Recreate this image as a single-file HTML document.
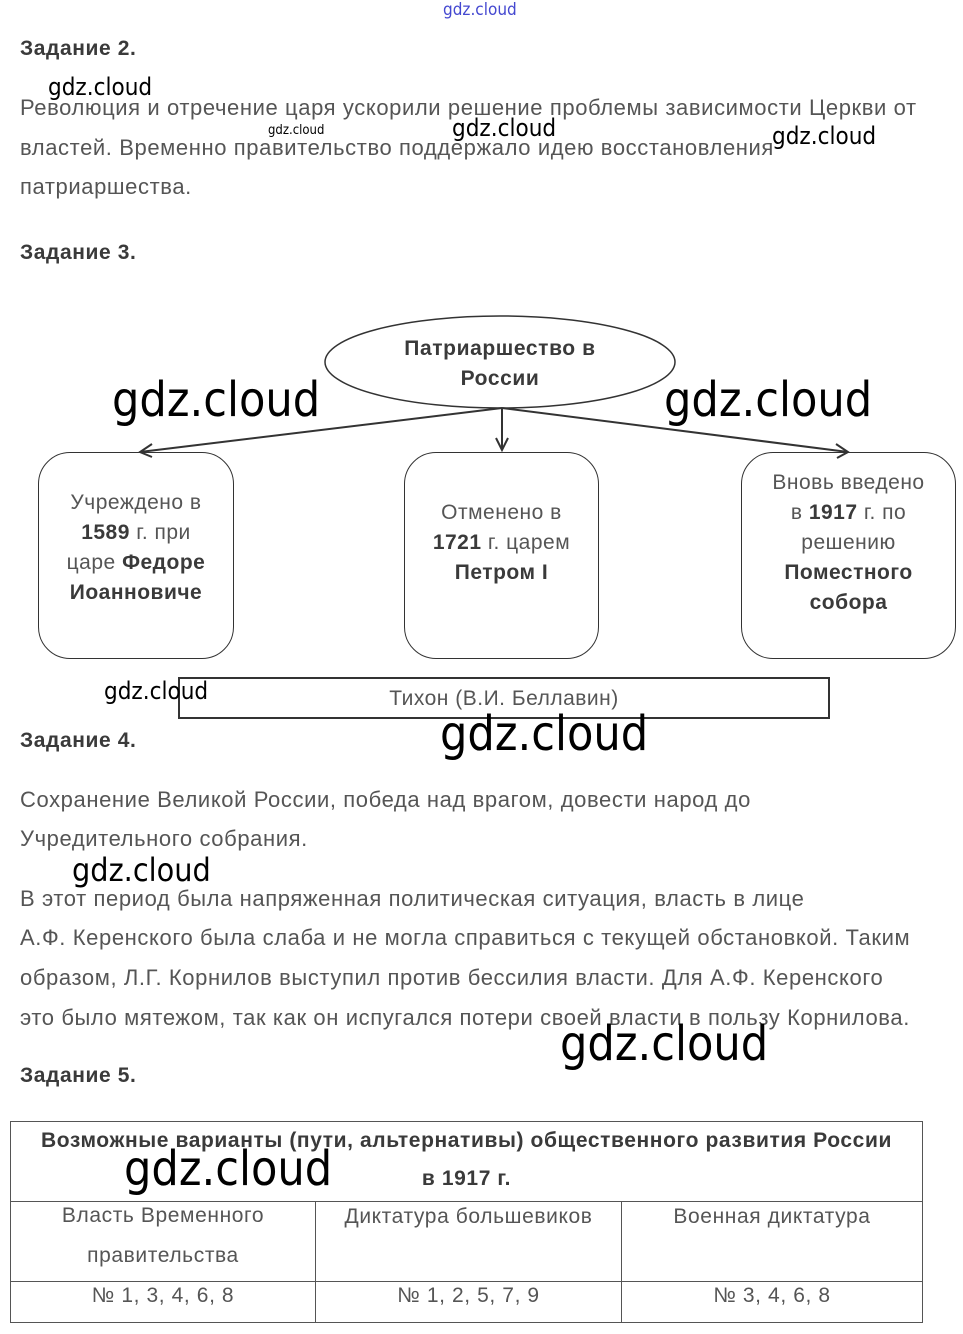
<!DOCTYPE html>
<html><head><meta charset="utf-8"><style>
body{margin:0;width:963px;height:1334px;background:#fff;position:relative;overflow:hidden;font-family:"Liberation Sans",sans-serif;}
.t{position:absolute;white-space:nowrap;color:#555;font-size:22px;line-height:22px;letter-spacing:0.6px;}
.h{position:absolute;white-space:nowrap;color:#3a3a3a;font-size:21px;font-weight:bold;line-height:22px;letter-spacing:0.6px;}
.w{position:absolute;white-space:nowrap;color:#000;font-family:"DejaVu Sans Condensed","Liberation Sans Narrow","Liberation Sans",sans-serif;line-height:1;letter-spacing:0;}
.box{position:absolute;border:1.5px solid #333;border-radius:32px;box-sizing:border-box;display:flex;align-items:center;justify-content:center;text-align:center;color:#555;font-size:21px;line-height:30px;letter-spacing:0.5px;}
b{color:#3a3a3a}
table{position:absolute;left:10px;top:1121px;width:913px;border-collapse:collapse;color:#555;font-size:21px;letter-spacing:0.6px;}
td{border:1px solid #555;text-align:center;vertical-align:top;padding:0;}
</style></head><body>
<div class="w" style="left:443px;top:2px;font-size:17px;color:#4448d0">gdz.cloud</div>
<div class="h" style="left:20px;top:38px">Задание 2.</div>
<div class="w" style="left:48px;top:75px;font-size:24px">gdz.cloud</div>
<div class="t" style="left:20px;top:97px">Революция и отречение царя ускорили решение проблемы зависимости Церкви от</div>
<div class="w" style="left:268px;top:124px;font-size:13px">gdz.cloud</div>
<div class="w" style="left:452px;top:116px;font-size:24px">gdz.cloud</div>
<div class="t" style="left:20px;top:137px">властей. Временно правительство поддержало идею восстановления</div>
<div class="w" style="left:772px;top:124px;font-size:24px">gdz.cloud</div>
<div class="t" style="left:20px;top:176px">патриаршества.</div>
<div class="h" style="left:20px;top:242px">Задание 3.</div>

<svg style="position:absolute;left:0;top:0" width="963" height="740">
<ellipse cx="500" cy="362" rx="175" ry="46" fill="#fff" stroke="#333" stroke-width="1.5"/>
<g stroke="#333" stroke-width="2" fill="none">
<line x1="502" y1="408" x2="140" y2="452"/>
<line x1="502" y1="408" x2="502" y2="450"/>
<line x1="502" y1="408" x2="848" y2="452"/>
<polyline points="152,444 140,452 152,457"/>
<polyline points="496,438 502,450 508,438"/>
<polyline points="836,444 848,452 837,458"/>
</g>
</svg>
<div class="h" style="left:325px;top:334px;width:350px;text-align:center;line-height:30px">Патриаршество в<br>России</div>
<div class="box" style="left:38px;top:452px;width:196px;height:207px"><div style="margin-top:-16px">Учреждено в<br><b>1589</b> г. при<br>царе <b>Федоре<br>Иоанновиче</b></div></div>
<div class="box" style="left:404px;top:452px;width:195px;height:207px"><div style="margin-top:-26px">Отменено в<br><b>1721</b> г. царем<br><b>Петром I</b></div></div>
<div class="box" style="left:741px;top:452px;width:215px;height:207px"><div style="margin-top:-26px">Вновь введено<br>в <b>1917</b> г. по<br>решению<br><b>Поместного<br>собора</b></div></div>
<div style="position:absolute;left:178px;top:677px;width:652px;height:42px;border:2px solid #333;box-sizing:border-box;text-align:center;color:#555;font-size:21px;letter-spacing:0.5px;line-height:40px">Тихон (В.И. Беллавин)</div>
<div class="w" style="left:112px;top:376px;font-size:48px">gdz.cloud</div>
<div class="w" style="left:664px;top:376px;font-size:48px">gdz.cloud</div>
<div class="w" style="left:104px;top:679px;font-size:24px">gdz.cloud</div>

<div class="h" style="left:20px;top:730px">Задание 4.</div>
<div class="w" style="left:440px;top:710px;font-size:48px">gdz.cloud</div>
<div class="t" style="left:20px;top:789px">Сохранение Великой России, победа над врагом, довести народ до</div>
<div class="t" style="left:20px;top:828px">Учредительного собрания.</div>
<div class="w" style="left:72px;top:854px;font-size:32px">gdz.cloud</div>
<div class="t" style="left:20px;top:888px">В этот период была напряженная политическая ситуация, власть в лице</div>
<div class="t" style="left:20px;top:927px">А.Ф. Керенского была слаба и не могла справиться с текущей обстановкой. Таким</div>
<div class="t" style="left:20px;top:967px">образом, Л.Г. Корнилов выступил против бессилия власти. Для А.Ф. Керенского</div>
<div class="t" style="left:20px;top:1007px">это было мятежом, так как он испугался потери своей власти в пользу Корнилова.</div>
<div class="w" style="left:560px;top:1020px;font-size:48px">gdz.cloud</div>
<div class="h" style="left:20px;top:1065px">Задание 5.</div>

<table>
<tr style="height:80px"><td colspan="3" style="line-height:38px;padding-top:0"><b>Возможные варианты (пути, альтернативы) общественного развития России<br>в 1917 г.</b></td></tr>
<tr style="height:80px"><td style="width:304px;line-height:40px;padding-top:0"><div style="margin-top:-6px">Власть Временного<br>правительства</div></td><td style="width:305px;line-height:30px">Диктатура большевиков</td><td style="line-height:30px">Военная диктатура</td></tr>
<tr style="height:41px"><td style="line-height:28px">№ 1, 3, 4, 6, 8</td><td style="line-height:28px">№ 1, 2, 5, 7, 9</td><td style="line-height:28px">№ 3, 4, 6, 8</td></tr>
</table>
<div class="w" style="left:124px;top:1145px;font-size:48px">gdz.cloud</div>
</body></html>
